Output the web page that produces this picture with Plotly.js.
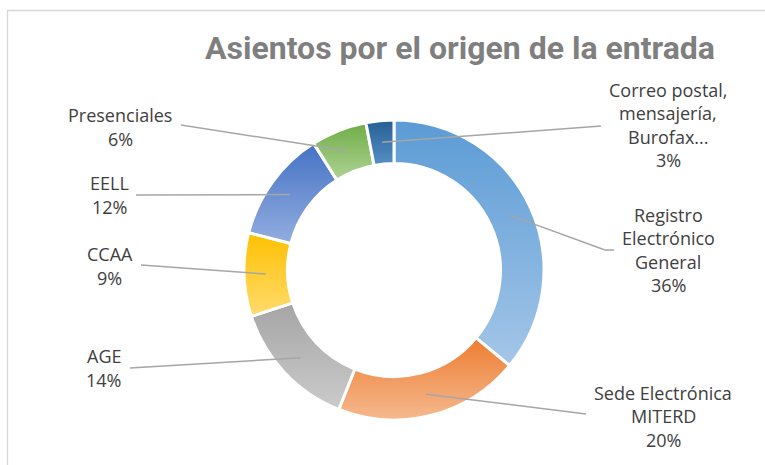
<!DOCTYPE html>
<html>
<head>
<meta charset="utf-8">
<script src="https://cdn.plot.ly/plotly-3.0.1.min.js"></script>
<style>html,body{margin:0;padding:0;background:#fff;}#chart{width:765px;height:465px;}</style>
</head>
<body>
<div id="chart"></div>
<script>
// ---- data ----
const categories = ['Registro Electrónico General', 'Sede Electrónica MITERD', 'AGE', 'CCAA', 'EELL', 'Presenciales', 'Correo postal, mensajería, Burofax...'];
const values = [36, 20, 14, 9, 12, 6, 3];
const labelLines = [
  ['Registro', 'Electrónico', 'General'],
  ['Sede Electrónica', 'MITERD'],
  ['AGE'],
  ['CCAA'],
  ['EELL'],
  ['Presenciales'],
  ['Correo postal,', 'mensajería,', 'Burofax...']
];
const colorsTop = ['#5b9bd5', '#ed7d31', '#a5a5a5', '#ffc000', '#4472c4', '#70ad47', '#255e91'];
const colorsBottom = ['#a4c6e8', '#f5b98f', '#cbcbcb', '#ffdb6e', '#93addf', '#aed394', '#5690c8'];
const sliceColors = ['#7daedf', '#f19f68', '#b9b9b9', '#ffcc3a', '#7092d2', '#8ec26b', '#3a78b3'];
const titleText = 'Asientos por el origen de la entrada';

// ---- layout helpers (pixel -> paper) ----
const W = 765, H = 465;
const px = x => x / W;
const py = y => 1 - y / H;
const cx = 394, cy = 270, R = 150, hole = 0.71;
// label block centres and leader end points (pixels)
const labelPos = [[668, 250], [663, 416], [104, 368], [110, 266], [110, 195], [120, 127], [668, 125]];
const leaderEnd = [[[605, 250], [614, 250]], [[586, 414]], [[130, 368]], [[141, 265]], [[136, 195]], [[181, 125]], [[601, 126]]];
const lineGap = 23.5;

const total = values.reduce((a, b) => a + b, 0);
const shapes = [{
  type: 'rect', xref: 'paper', yref: 'paper',
  x0: px(7.5), x1: 1.02, y0: -0.02, y1: py(10.5),
  line: {color: '#d9d9d9', width: 1.3}, fillcolor: 'rgba(0,0,0,0)', layer: 'below'
}];
const annotations = [];
let cum = 0;
const rMid = R * (1 + hole) / 2;
values.forEach((v, i) => {
  const mid = (cum + v / 2) / total;
  cum += v;
  const a = mid * 2 * Math.PI;
  let sx = cx + rMid * Math.sin(a), sy = cy - rMid * Math.cos(a);
  leaderEnd[i].forEach(p => {
    shapes.push({type: 'line', xref: 'paper', yref: 'paper', x0: px(sx), y0: py(sy), x1: px(p[0]), y1: py(p[1]),
      line: {color: '#a6a6a6', width: 1.5}, layer: 'above'});
    sx = p[0]; sy = p[1];
  });
  const lines = labelLines[i].concat([Math.round(v / total * 100) + '%']);
  lines.forEach((t, j) => {
    const y = labelPos[i][1] + (j - (lines.length - 1) / 2) * lineGap;
    annotations.push({xref: 'paper', yref: 'paper', x: px(labelPos[i][0]), y: py(y), xanchor: 'center', yanchor: 'middle',
      text: t, showarrow: false, font: {family: 'Open Sans', size: 18, color: '#404040'}});
  });
});

const trace = {
  type: 'pie', labels: categories, values: values, sort: false, direction: 'clockwise', rotation: 0,
  hole: hole, textinfo: 'none', hoverinfo: 'none', showlegend: false,
  marker: {colors: sliceColors, line: {color: '#ffffff', width: 3}},
  domain: {x: [px(cx - R), px(cx + R)], y: [py(cy + R), py(cy - R)]}
};

const layout = {
  width: W, height: H, margin: {l: 0, r: 0, t: 0, b: 0},
  paper_bgcolor: '#ffffff', plot_bgcolor: '#ffffff',
  title: {text: titleText, xref: 'paper', yref: 'paper', x: px(460), y: py(48), xanchor: 'center', yanchor: 'middle',
    font: {family: 'Roboto', size: 32, color: '#7f7f7f', weight: 'bold'}},
  shapes: shapes, annotations: annotations
};
Plotly.newPlot('chart', [trace], layout, {displayModeBar: false, staticPlot: true}).then(gd => {
  // vertical gradient per slice (darker top, lighter bottom)
  const svg = gd.querySelector('.main-svg');
  const defs = svg.querySelector('defs');
  const NS = 'http://www.w3.org/2000/svg';
  colorsTop.forEach((c, i) => {
    const g = document.createElementNS(NS, 'linearGradient');
    g.setAttribute('id', 'sliceGrad' + i);
    g.setAttribute('x1', '0'); g.setAttribute('y1', '0'); g.setAttribute('x2', '0'); g.setAttribute('y2', '1');
    [[0, c], [1, colorsBottom[i]]].forEach(([o, col]) => {
      const s = document.createElementNS(NS, 'stop');
      s.setAttribute('offset', o); s.setAttribute('stop-color', col);
      g.appendChild(s);
    });
    defs.appendChild(g);
  });
  gd.querySelectorAll('g.slice path.surface').forEach((p, i) => {
    p.style.fill = 'url(#sliceGrad' + i + ')';
  });
});
</script>
</body>
</html>
